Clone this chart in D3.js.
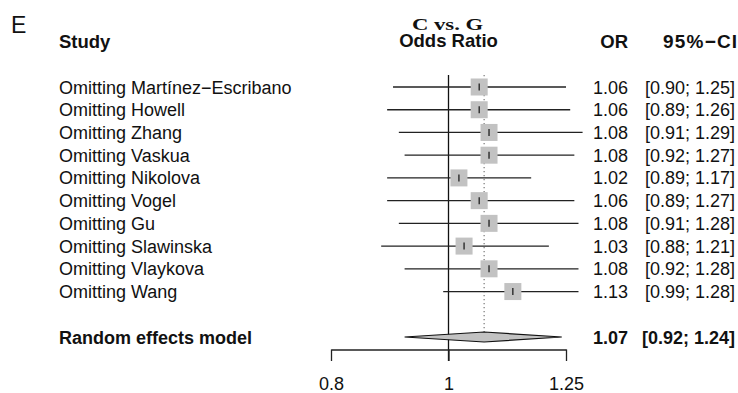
<!DOCTYPE html>
<html>
<head>
<meta charset="utf-8">
<script src="https://cdn.jsdelivr.net/npm/d3@7"></script>
<style>
  html, body { margin: 0; padding: 0; background: #fff; }
  svg { display: block; }
  text { font-family: "Liberation Sans", Arial, Helvetica, sans-serif; fill: #111; }
</style>
</head>
<body>
<svg id="chart" width="738" height="393"></svg>
<script>
// Leave-one-out sensitivity analysis, C vs. G
const studies = [
  "Omitting Martínez−Escribano",
  "Omitting Howell",
  "Omitting Zhang",
  "Omitting Vaskua",
  "Omitting Nikolova",
  "Omitting Vogel",
  "Omitting Gu",
  "Omitting Slawinska",
  "Omitting Vlaykova",
  "Omitting Wang"
];
const oddsRatio = [1.06, 1.06, 1.08, 1.08, 1.02, 1.06, 1.08, 1.03, 1.08, 1.13];
const ciLower   = [0.90, 0.89, 0.91, 0.92, 0.89, 0.89, 0.91, 0.88, 0.92, 0.99];
const ciUpper   = [1.25, 1.26, 1.29, 1.27, 1.17, 1.27, 1.28, 1.21, 1.28, 1.28];
const pooledLabel = "Random effects model";
const pooled = { or: 1.07, lower: 0.92, upper: 1.24 };
const tickValues = [0.8, 1, 1.25];
const tickLabels = ["0.8", "1", "1.25"];

const fmt = d3.format(".2f");
const svg = d3.select("#chart");

// log scale for odds ratios
const x = d3.scaleLog().domain([0.8, 1.25]).range([331, 566]);
// row positions: study rows 0..9, blank row 10, pooled row 11
const y = d3.scaleLinear().domain([0, 11]).range([87, 337]);
const pooledRow = 11;
const baseOff = 6.5;      // baseline offset for 18px text centred on a row
const sq = 17;            // study square side

// panel letter
svg.append("text").attr("x", 11).attr("y", 33)
  .style("font-size", "23px").text("E");

// headers
svg.append("text").attr("x", 59).attr("y", 47.5)
  .style("font-size", "18.5px").style("font-weight", "bold").text("Study");
svg.append("text").attr("text-anchor", "middle")
  .attr("transform", `translate(${x(1) - 1},29.5) scale(1.42,1)`)
  .style("font-family", "'Liberation Serif', 'Times New Roman', serif")
  .style("font-size", "16px").style("font-weight", "bold").text("C vs. G");
svg.append("text").attr("x", x(1)).attr("y", 46.5).attr("text-anchor", "middle")
  .style("font-size", "18.5px").style("font-weight", "bold").text("Odds Ratio");
svg.append("text").attr("x", 628).attr("y", 47.5).attr("text-anchor", "end")
  .style("font-size", "18.5px").style("font-weight", "bold").text("OR");
svg.append("text").attr("x", 663).attr("y", 47.5)
  .style("font-size", "19px").style("font-weight", "bold")
  .style("letter-spacing", "1.2px").text("95%−CI");

// reference line at OR = 1
svg.append("line")
  .attr("x1", x(1)).attr("x2", x(1))
  .attr("y1", 75).attr("y2", 361)
  .attr("stroke", "#111").attr("stroke-width", 1.3);

// dotted line at the pooled estimate
svg.append("line")
  .attr("x1", x(pooled.or)).attr("x2", x(pooled.or))
  .attr("y1", 75).attr("y2", y(pooledRow) - 5)
  .attr("stroke", "#777").attr("stroke-width", 1.2)
  .attr("stroke-dasharray", "1.3,2.7");

const rows = studies.map((s, i) => ({
  study: s, or: oddsRatio[i], lo: ciLower[i], hi: ciUpper[i], row: i
}));

// confidence intervals
svg.append("g").selectAll("line").data(rows).join("line")
  .attr("x1", d => x(d.lo)).attr("x2", d => x(d.hi))
  .attr("y1", d => y(d.row)).attr("y2", d => y(d.row))
  .attr("stroke", "#222").attr("stroke-width", 1.3);

// study squares
svg.append("g").selectAll("rect").data(rows).join("rect")
  .attr("x", d => x(d.or) - sq / 2).attr("y", d => y(d.row) - sq / 2)
  .attr("width", sq).attr("height", sq)
  .attr("fill", "#c2c2c2");

// point estimate ticks
svg.append("g").selectAll("line").data(rows).join("line")
  .attr("x1", d => x(d.or)).attr("x2", d => x(d.or))
  .attr("y1", d => y(d.row) - 3.5).attr("y2", d => y(d.row) + 3.5)
  .attr("stroke", "#111").attr("stroke-width", 1.2);

// pooled diamond
const py = y(pooledRow);
svg.append("path")
  .attr("d", `M${x(pooled.lower)},${py} L${x(pooled.or)},${py - 5} L${x(pooled.upper)},${py} L${x(pooled.or)},${py + 5} Z`)
  .attr("fill", "#c2c2c2").attr("stroke", "#111").attr("stroke-width", 1.2);

// study labels and values
const txt = svg.append("g").style("font-size", "18px");
txt.selectAll("text.study").data(rows).join("text").attr("class", "study")
  .attr("x", 59).attr("y", d => y(d.row) + baseOff).text(d => d.study);
txt.selectAll("text.or").data(rows).join("text").attr("class", "or")
  .attr("x", 628).attr("y", d => y(d.row) + baseOff).attr("text-anchor", "end")
  .text(d => fmt(d.or));
txt.selectAll("text.ci").data(rows).join("text").attr("class", "ci")
  .attr("x", 735).attr("y", d => y(d.row) + baseOff).attr("text-anchor", "end")
  .text(d => `[${fmt(d.lo)}; ${fmt(d.hi)}]`);

// pooled row text
const bold = svg.append("g").style("font-size", "18px").style("font-weight", "bold");
bold.append("text").attr("x", 59).attr("y", py + baseOff).text(pooledLabel);
bold.append("text").attr("x", 628).attr("y", py + baseOff).attr("text-anchor", "end")
  .text(fmt(pooled.or));
bold.append("text").attr("x", 735).attr("y", py + baseOff).attr("text-anchor", "end")
  .text(`[${fmt(pooled.lower)}; ${fmt(pooled.upper)}]`);

// x axis, ticks pointing down
const axisY = 349.5;
const axis = d3.axisBottom(x).tickValues(tickValues)
  .tickFormat((d, i) => tickLabels[i]).tickSize(11.5).tickPadding(16).tickSizeOuter(0);
const ax = svg.append("g").attr("transform", `translate(0,${axisY})`).call(axis);
ax.select(".domain").attr("stroke", "#222").attr("stroke-width", 1.3);
ax.selectAll(".tick line").attr("stroke", "#222").attr("stroke-width", 1.3);
ax.selectAll(".tick text")
  .style("font-family", "'Liberation Sans', Arial, Helvetica, sans-serif")
  .style("font-size", "18px").attr("fill", "#111");
</script>
</body>
</html>
